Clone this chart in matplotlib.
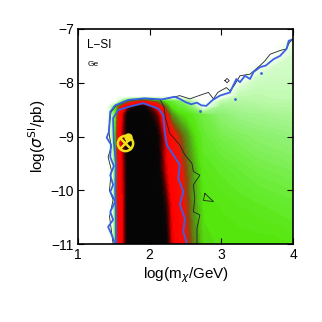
import numpy as np
import matplotlib
matplotlib.use("Agg")
import matplotlib.pyplot as plt
from matplotlib.colors import LinearSegmentedColormap

plt.rcParams['font.family'] = ['Liberation Sans', 'DejaVu Sans']

# ---- density grid (0 = empty/white, 1 = black core) ----
grid_x = [1.0, 1.40, 1.48, 1.53, 1.57, 1.63, 1.72, 1.90, 2.10, 2.22,
          2.30, 2.40, 2.50, 2.60, 2.75, 3.00, 3.25, 3.50, 3.75, 4.00]
grid_y = [-11.0, -10.3, -9.6, -9.0, -8.6, -8.45, -8.35, -8.25, -8.1,
          -7.9, -7.7, -7.5, -7.3, -7.1, -7.0]
row_m110 = [0, 0, 0.05, 0.55, 0.8, 0.85, 1.0, 1.0, 1.0, 0.97, 0.86, 0.8, 0.7, 0.6, 0.51, 0.5, 0.5, 0.5, 0.5, 0.49]
row_m103 = [0, 0, 0.05, 0.55, 0.8, 0.85, 1.0, 1.0, 1.0, 0.93, 0.84, 0.78, 0.67, 0.57, 0.5, 0.49, 0.48, 0.47, 0.46, 0.45]
row_m96 = [0, 0, 0.1, 0.55, 0.8, 0.86, 1.0, 1.0, 0.98, 0.86, 0.8, 0.74, 0.64, 0.56, 0.48, 0.46, 0.44, 0.42, 0.41, 0.4]
row_m90 = [0, 0, 0.25, 0.55, 0.8, 0.88, 1.0, 1.0, 0.96, 0.84, 0.76, 0.66, 0.58, 0.52, 0.45, 0.41, 0.39, 0.37, 0.36, 0.35]
row_m86 = [0, 0, 0.3, 0.5, 0.75, 0.86, 1.0, 1.0, 0.9, 0.75, 0.58, 0.52, 0.5, 0.47, 0.42, 0.36, 0.33, 0.32, 0.31, 0.3]
row_m845 = [0, 0, 0.3, 0.5, 0.62, 0.8, 0.9, 0.97, 0.82, 0.6, 0.5, 0.45, 0.42, 0.35, 0.1, 0.32, 0.3, 0.29, 0.28, 0.28]
row_m835 = [0, 0, 0, 0.05, 0.2, 0.4, 0.6, 0.75, 0.6, 0.5, 0.45, 0.4, 0.35, 0.25, 0, 0.25, 0.28, 0.27, 0.26, 0.26]
row_m825 = [0, 0, 0, 0, 0, 0, 0, 0, 0, 0, 0, 0, 0, 0, 0, 0.05, 0.25, 0.26, 0.25, 0.25]
row_m81 = [0, 0, 0, 0, 0, 0, 0, 0, 0, 0, 0, 0, 0, 0, 0, 0, 0.18, 0.24, 0.24, 0.24]
row_m79 = [0, 0, 0, 0, 0, 0, 0, 0, 0, 0, 0, 0, 0, 0, 0, 0, 0.02, 0.2, 0.22, 0.22]
row_m77 = [0, 0, 0, 0, 0, 0, 0, 0, 0, 0, 0, 0, 0, 0, 0, 0, 0, 0.05, 0.2, 0.21]
row_m75 = [0, 0, 0, 0, 0, 0, 0, 0, 0, 0, 0, 0, 0, 0, 0, 0, 0, 0, 0.05, 0.2]
row_m73 = [0, 0, 0, 0, 0, 0, 0, 0, 0, 0, 0, 0, 0, 0, 0, 0, 0, 0, 0, 0.15]
row_m71 = [0] * 20
row_m70 = [0] * 20

# ---- contour lines ----
outer_blue_x = [1.52, 1.47, 1.42, 1.49, 1.45, 1.52, 1.45, 1.49, 1.45, 1.50, 1.45, 1.46, 1.40, 1.43,
                1.44, 1.45, 1.52, 1.70, 1.93, 2.17, 2.35, 2.42, 2.50, 2.58, 2.66, 2.72, 2.79, 2.88,
                2.98, 3.12, 3.21, 3.26, 3.33, 3.40, 3.45, 3.54, 3.62, 3.73, 3.82, 3.91, 3.94, 4.0]
outer_blue_y = [-11.0, -10.83, -10.68, -10.55, -10.40, -10.21, -10.03, -9.90, -9.72, -9.55, -9.38,
                -9.15, -9.02, -8.92, -8.75, -8.54, -8.42, -8.32, -8.29, -8.31, -8.26, -8.30, -8.36,
                -8.40, -8.37, -8.42, -8.43, -8.32, -8.24, -8.18, -7.93, -7.99, -7.87, -7.93, -7.80,
                -7.71, -7.68, -7.56, -7.50, -7.37, -7.22, -7.19]
inner_blue_x = [1.53, 1.53, 1.52, 1.53, 1.50, 1.49, 1.56, 1.70, 1.91, 2.12, 2.19, 2.21, 2.24, 2.33,
                2.42, 2.40, 2.47, 2.42, 2.49, 2.47, 2.52]
inner_blue_y = [-11.0, -10.5, -10.0, -9.5, -9.1, -8.66, -8.51, -8.45, -8.38, -8.48, -8.60, -8.91,
                -9.16, -9.34, -9.53, -9.78, -10.03, -10.27, -10.52, -10.77, -11.0]
blue_dots_x = [2.70, 3.56, 3.19]
blue_dots_y = [-8.52, -7.81, -8.30]

black_band_x = [1.49, 1.465, 1.44, 1.49, 1.44, 1.465, 1.42, 1.465, 1.44, 1.43, 1.44, 1.46, 1.53,
                1.70, 1.93, 2.15, 2.20, 2.22, 2.28, 2.42, 2.49, 2.59, 2.61, 2.70, 2.61, 2.63, 2.61,
                2.70, 2.66, 2.66]
black_band_y = [-11.0, -10.74, -10.49, -10.18, -10.0, -9.62, -9.38, -9.19, -9.0, -8.9, -8.75, -8.55,
                -8.43, -8.33, -8.30, -8.32, -8.45, -8.65, -8.94, -9.16, -9.34, -9.5, -9.65, -9.72,
                -9.9, -10.15, -10.4, -10.46, -10.71, -11.0]
black_top_x = [2.22, 2.42, 2.56, 2.75, 2.82, 2.89, 2.95, 3.07, 3.12, 3.18, 3.26, 3.40, 3.54, 3.61,
               3.68, 3.82, 3.91, 3.95, 4.0]
black_top_y = [-8.30, -8.24, -8.30, -8.21, -8.18, -8.30, -8.18, -8.09, -8.15, -8.05, -7.87, -7.84,
               -7.68, -7.59, -7.47, -7.40, -7.37, -7.25, -7.19]
black_loop_x = [3.05, 3.08, 3.11, 3.08, 3.05]
black_loop_y = [-7.96, -7.92, -7.96, -8.00, -7.96]
black_tri_x = [2.77, 2.75, 2.89, 2.77]
black_tri_y = [-10.06, -10.19, -10.21, -10.06]

best_fit = (1.658, -9.125)
true_point = (1.695, -9.0)

x_ticks = [1, 2, 3, 4]
y_ticks = [-11, -10, -9, -8, -7]

# ---- figure ----
Z = np.array([row_m110, row_m103, row_m96, row_m90, row_m86, row_m845, row_m835, row_m825,
              row_m81, row_m79, row_m77, row_m75, row_m73, row_m71, row_m70])

cmap = LinearSegmentedColormap.from_list('lsi', [
    (0.00, (1.0, 1.0, 1.0)),
    (0.15, (0.90, 1.0, 0.88)),
    (0.25, (0.76, 0.98, 0.70)),
    (0.35, (0.58, 0.95, 0.48)),
    (0.45, (0.40, 0.92, 0.18)),
    (0.50, (0.33, 0.90, 0.05)),
    (0.57, (0.32, 0.58, 0.08)),
    (0.64, (0.55, 0.28, 0.05)),
    (0.70, (0.95, 0.08, 0.02)),
    (0.84, (1.0, 0.0, 0.0)),
    (0.90, (0.40, 0.0, 0.0)),
    (0.95, (0.03, 0.02, 0.02)),
    (1.00, (0.02, 0.02, 0.02)),
])

fig = plt.figure(figsize=(3.22, 3.22), dpi=100)
ax = fig.add_axes([78 / 322, 78 / 322, 215 / 322, 215 / 322])

ax.contourf(grid_x, grid_y, Z, levels=np.linspace(0.02, 1.0, 80), cmap=cmap,
            vmin=0, vmax=1, extend='max')

blue = '#3b5fe6'
ax.plot(black_band_x, black_band_y, color='#222222', lw=0.6)
ax.plot(black_top_x, black_top_y, color='#222222', lw=0.6)
ax.plot(black_loop_x, black_loop_y, color='#222222', lw=0.6)
ax.plot(black_tri_x, black_tri_y, color='#222222', lw=0.6)
ax.plot(outer_blue_x, outer_blue_y, color=blue, lw=1.3)
ax.plot(inner_blue_x, inner_blue_y, color=blue, lw=1.3)
ax.plot(blue_dots_x, blue_dots_y, 'o', color=blue, ms=2, mec='none')

ax.plot(*best_fit, 'o', ms=11, mfc='none', mec='#f2e21a', mew=1.8)
ax.plot(*best_fit, 'x', ms=7, color='#f2e21a', mew=1.8)
ax.plot(*true_point, 'o', ms=5, mfc='#f2e21a', mec='#f2e21a')

ax.set_xlim(1, 4)
ax.set_ylim(-11, -7)
ax.set_xticks(x_ticks)
ax.set_yticks(y_ticks)
ax.tick_params(direction='in', top=True, right=True, length=4, width=0.8, labelsize=10,
               pad=3)
for s in ax.spines.values():
    s.set_linewidth(1.2)

ax.set_xlabel(r'log(m$_\chi$/GeV)', fontsize=11, labelpad=2)
ax.set_ylabel(r'log($\sigma^{\rm SI}$/pb)', fontsize=11, labelpad=2)

ax.text(1.13, -7.35, 'L\u2212SI', fontsize=8.5)
ax.text(1.13, -7.68, 'Ge', fontsize=6)

fig.savefig('out.png', dpi=100)
